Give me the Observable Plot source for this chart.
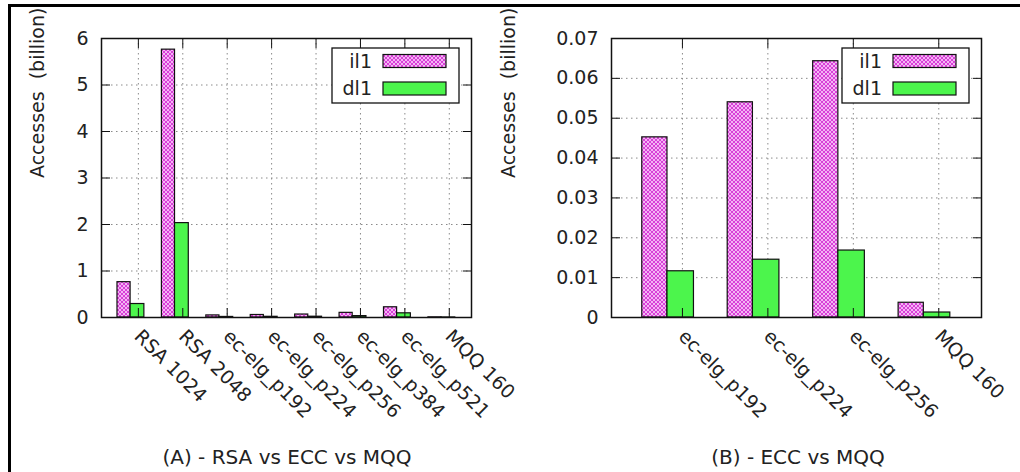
<!DOCTYPE html>
<html><head><meta charset="utf-8">
<script src="https://cdn.jsdelivr.net/npm/d3@7"></script>
<script src="https://cdn.jsdelivr.net/npm/@observablehq/plot@0.6"></script>
<style>
html,body{margin:0;padding:0;background:#fff;overflow:hidden;}
#wrap{position:relative;width:1020px;height:472px;overflow:hidden;background:#fff;font-family:"DejaVu Sans",sans-serif;}
.bar{position:absolute;background:#000;z-index:5;}
.panel{position:absolute;top:0;}
.panel svg{background:transparent !important;}
.cap{position:absolute;top:446px;font-size:20px;line-height:22px;color:#222;white-space:pre;transform:translateX(-50%);}
svg text{white-space:pre;}
</style></head>
<body><div id="wrap">
<div id="pA" class="panel" style="left:0"></div><div id="pB" class="panel" style="left:460px"></div>
<div class="bar" style="left:8px;top:4px;width:1012px;height:3px"></div>
<div class="bar" style="left:8px;top:4px;width:3px;height:468px"></div>
<div class="cap" style="left:287px">(A) - RSA vs ECC vs MQQ</div><div class="cap" style="left:798px">(B) - ECC vs MQQ</div></div>
<script>
// ---- data ----
const catsA = ["RSA 1024","RSA 2048","ec-elg_p192","ec-elg_p224","ec-elg_p256","ec-elg_p384","ec-elg_p521","MQQ 160"];
const il1A = [0.76, 5.76, 0.045, 0.054, 0.064, 0.10, 0.22, 0.0037];
const dl1A = [0.29, 2.03, 0.012, 0.015, 0.017, 0.03, 0.09, 0.0012];
const yTicksA = [0,1,2,3,4,5,6];

const catsB = ["ec-elg_p192","ec-elg_p224","ec-elg_p256","MQQ 160"];
const il1B = [0.0452, 0.054, 0.0643, 0.0037];
const dl1B = [0.0116, 0.0145, 0.0168, 0.00125];
const yTicksB = [0,0.01,0.02,0.03,0.04,0.05,0.06,0.07];

const seriesNames = ["il1","dl1"];
const yLabel = "Accesses  (billion)";

function makePanel(id, cats, il1, dl1, yTicks, width, marginLeft, yLabelDx) {
  const marginRight = 39, marginTop = 38, height = 430, marginBottom = 113;
  const idx = cats.map((_, i) => i);
  const rows1 = cats.map((c, i) => ({i, v: il1[i]}));
  const rows2 = cats.map((c, i) => ({i, v: dl1[i]}));
  const hatch = "hatch" + id;
  const grid = {stroke: "#8a8a8a", strokeOpacity: 1, strokeWidth: 1, strokeDasharray: "1.5,3.5"};
  const plot = Plot.plot({
    width, height, marginLeft, marginRight, marginTop, marginBottom,
    style: {background: "transparent", fontFamily: "DejaVu Sans", fontSize: "19px", color: "#222", overflow: "visible"},
    x: {domain: [-0.83, cats.length - 0.5], axis: null},
    y: {domain: [yTicks[0], yTicks[yTicks.length - 1]], axis: null},
    marks: [
      Plot.gridX(idx, grid),
      Plot.gridY(yTicks, grid),
      Plot.rectY(rows1, {x1: d => d.i - 0.47, x2: d => d.i - 0.175, y1: 0, y2: "v", fill: `url(#${hatch})`, stroke: "#111", strokeWidth: 1.2}),
      Plot.rectY(rows2, {x1: d => d.i - 0.175, x2: d => d.i + 0.135, y1: 0, y2: "v", fill: "#4cf54c", stroke: "#111", strokeWidth: 1.2}),
      Plot.axisY(yTicks, {anchor: "left", tickSize: 0, tickPadding: 13, label: null, tickFormat: d => String(d)}),
      Plot.axisY(yTicks, {anchor: "left", tickSize: -9, tickFormat: () => "", label: null, stroke: "#111"}),
      Plot.axisY(yTicks, {anchor: "right", tickSize: -9, tickFormat: () => "", label: null, stroke: "#111"}),
      Plot.axisX(idx, {anchor: "bottom", tickSize: -9, tickFormat: () => "", label: null, stroke: "#111"}),
      Plot.axisX(idx, {anchor: "top", tickSize: -9, tickFormat: () => "", label: null, stroke: "#111"}),
      Plot.frame({stroke: "#111", strokeWidth: 1.5}),
      Plot.text(cats, {x: (d, i) => i, y: () => 0, text: d => d, rotate: 45, textAnchor: "start", lineAnchor: "bottom", dx: -5, dy: 20, fill: "#222"}),
      Plot.text([yLabel], {frameAnchor: "left", dx: yLabelDx, rotate: -90, text: d => d, fill: "#222"})
    ]
  });
  const svg = d3.select(plot);
  const defs = svg.insert("defs", ":first-child");
  const pat = defs.append("pattern").attr("id", hatch).attr("width", 4).attr("height", 4).attr("patternUnits", "userSpaceOnUse");
  pat.append("rect").attr("width", 4).attr("height", 4).attr("fill", "#f4b4f4");
  pat.append("path").attr("d", "M0,0L4,4M4,0L0,4").attr("stroke", "#d840d8").attr("stroke-width", 1);
  // legend
  const R = width - marginRight, T = marginTop;
  const g = svg.append("g");
  g.append("rect").attr("x", R - 139).attr("y", T + 10).attr("width", 127).attr("height", 55)
    .attr("fill", "white").attr("stroke", "#111").attr("stroke-width", 1.3);
  const fills = [`url(#${hatch})`, "#4cf54c"];
  seriesNames.forEach((s, k) => {
    const cy = T + 23 + k * 27.5;
    g.append("text").attr("x", R - 99).attr("y", cy).attr("dy", "0.35em").attr("text-anchor", "end")
      .attr("fill", "#222").text(s);
    g.append("rect").attr("x", R - 88).attr("y", cy - 6.5).attr("width", 63).attr("height", 13)
      .attr("fill", fills[k]).attr("stroke", "#111").attr("stroke-width", 1.2);
  });
  document.getElementById(id).appendChild(plot);
}

makePanel("pA", catsA, il1A, dl1A, yTicksA, 510, 101, -64);
makePanel("pB", catsB, il1B, dl1B, yTicksB, 560, 151, -103);
</script>
</body></html>
